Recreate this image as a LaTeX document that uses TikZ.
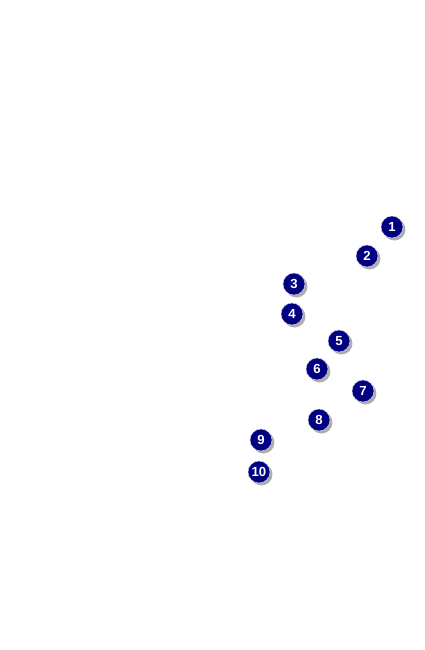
\documentclass[tikz,border=0pt]{standalone}
\usepackage{fontspec}
\setsansfont{Liberation Sans}
\usepackage{tikz}
\usetikzlibrary{shadows}
\definecolor{badgeblue}{HTML}{000080}

\begin{document}
\begin{tikzpicture}[
        x=0.02cm, y=-0.02cm,
        every node/.style={circle, draw=white!80!badgeblue, line width=0.3pt, fill=badgeblue, text=white, inner sep=0pt, minimum size=0.44cm, font=\sffamily\bfseries\fontsize{7.5}{8}\selectfont, drop shadow={shadow xshift=0.05cm, shadow yshift=-0.05cm, fill=black!45, opacity=0.7}}
    ]
    \useasboundingbox (0,0) rectangle (425,650);
    \node (badge1) at (392,227) {1};
    \node (badge2) at (367,256) {2};
    \node (badge3) at (294,284) {3};
    \node (badge4) at (292,314) {4};
    \node (badge5) at (339,341) {5};
    \node (badge6) at (317,369) {6};
    \node (badge7) at (363,391) {7};
    \node (badge8) at (319,420) {8};
    \node (badge9) at (261,440) {9};
    \node (badge10) at (259,472) {10};
    \end{tikzpicture}
\end{document}
